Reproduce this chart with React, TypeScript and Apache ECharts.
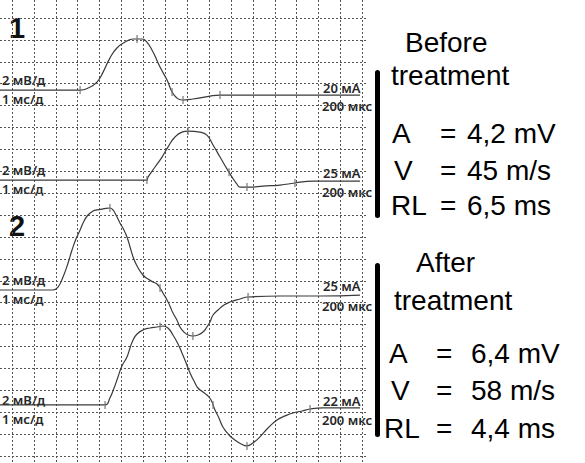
import React, { useEffect, useRef } from "react";
import * as echarts from "echarts";

// time axis: 1 ms per division; amplitude: 2 mV per division
const T1_t = [-0.55, 3.11, 3.47, 3.88, 4.16, 4.47, 4.79, 5.16, 5.53, 5.94, 6.16, 6.44, 6.76, 7.08, 7.31, 7.53, 7.76, 8.26, 9.04, 9.5, 15.89];
const T1_mV = [0, 0, 0.18, 0.73, 1.64, 2.92, 3.84, 4.38, 4.66, 4.66, 4.38, 3.47, 2.1, 0.91, -0.18, -0.73, -0.91, -0.82, -0.55, -0.46, -0.46];

const T2_t = [-0.55, 6.16, 6.21, 6.53, 6.85, 7.12, 7.44, 7.76, 8.04, 8.58, 8.9, 9.18, 9.5, 9.82, 10.05, 10.27, 10.41, 10.87, 11.46, 12.24, 12.92, 13.74, 15.89];
const T2_mV = [0, 0, 0.27, 1.19, 2.1, 3.01, 3.93, 4.38, 4.47, 4.38, 4.11, 3.2, 2.1, 1.0, 0.27, -0.37, -0.64, -0.64, -0.55, -0.46, -0.27, -0.09, -0.09];

const T3_t = [-0.55, 1.87, 2.1, 2.33, 2.56, 2.74, 2.92, 3.11, 3.29, 3.47, 3.7, 3.88, 4.16, 4.47, 4.61, 4.75, 4.93, 5.11, 5.25, 5.39, 5.53, 5.71, 5.98, 6.21, 6.44, 6.62, 6.76, 6.89, 7.08, 7.21, 7.35, 7.53, 7.67, 7.85, 8.04, 8.26, 8.49, 8.72, 8.9, 9.04, 9.18, 9.41, 9.68, 9.95, 10.41, 10.78, 12.24, 14.06, 15.89];
const T3_mV = [0, 0, 0.27, 1.19, 2.47, 3.65, 4.66, 5.48, 6.3, 6.85, 7.21, 7.31, 7.4, 7.49, 7.31, 6.85, 6.12, 5.48, 4.84, 3.93, 3.01, 2.19, 1.37, 1.0, 0.73, 0.55, 0.18, -0.27, -0.91, -1.46, -2.1, -2.74, -3.38, -3.84, -4.11, -4.2, -4.11, -3.84, -3.38, -2.92, -2.28, -1.83, -1.37, -1.1, -0.82, -0.64, -0.55, -0.55, -0.46];

const T4_t = [-0.55, 4.25, 4.47, 4.66, 4.84, 5.02, 5.25, 5.39, 5.53, 5.71, 5.98, 6.3, 6.62, 6.89, 7.12, 7.35, 7.58, 7.76, 7.95, 8.13, 8.31, 8.49, 8.72, 8.9, 9.09, 9.27, 9.45, 9.63, 9.91, 10.18, 10.46, 10.73, 11.0, 11.32, 11.69, 12.1, 12.47, 12.83, 13.24, 13.61, 14.2, 15.89];
const T4_mV = [0, 0, 0.64, 1.55, 2.56, 3.56, 4.38, 5.21, 5.94, 6.48, 6.85, 7.03, 7.12, 7.21, 7.03, 6.39, 5.57, 4.75, 3.84, 2.92, 2.19, 1.55, 1.19, 0.91, 0.46, -0.46, -1.19, -2.01, -2.74, -3.2, -3.56, -3.74, -3.47, -2.92, -2.1, -1.37, -1.0, -0.73, -0.55, -0.37, -0.27, -0.27];

// cursor marks on each trace (ms)
const M1 = [3.11, 5.71, 7.31, 7.81, 9.5];
const M2 = [6.16, 8.04, 9.91, 10.73, 12.92];
const M3 = [4.47, 6.76, 8.26, 10.78];
const M4 = [4.25, 6.76, 9.18, 10.73, 13.61];

// baseline of each trace, in grid divisions from bottom
const BASELINES = [16.71, 12.6, 7.58, 2.33];
const MV_PER_DIV = 2;

const GAIN_LABEL = "2 мВ/д";
const SWEEP_LABEL = "1 мс/д";
const STIM_LABELS = ["20 мА", "25 мА", "25 мА", "22 мА"];
const DUR_LABEL = "200 мкс";

const BEFORE = { title: ["Before", "treatment"], A: "4,2 mV", V: "45 m/s", RL: "6,5 ms" };
const AFTER = { title: ["After", "treatment"], A: "6,4 mV", V: "58 m/s", RL: "4,4 ms" };

const TRACES = [
  [T1_t, T1_mV, M1],
  [T2_t, T2_mV, M2],
  [T3_t, T3_mV, M3],
  [T4_t, T4_mV, M4],
] as const;

function interp(ts: readonly number[], vs: readonly number[], t: number) {
  for (let i = 1; i < ts.length; i++) {
    if (t <= ts[i]) {
      const f = (t - ts[i - 1]) / (ts[i] - ts[i - 1] || 1);
      return vs[i - 1] + f * (vs[i] - vs[i - 1]);
    }
  }
  return vs[vs.length - 1];
}

export default function App() {
  const ref = useRef<HTMLDivElement>(null);
  useEffect(() => {
    if (!ref.current) return;
    const chart = echarts.init(ref.current, null, { renderer: "svg" });
    const DIV = 21.9;
    const gridLine = { type: [2, 2] as number[], color: "#555", width: 1 };

    const lineSeries = TRACES.map(([ts, vs], k) => ({
      type: "line",
      xAxisIndex: 1,
      yAxisIndex: 1,
      data: ts.map((t, i) => [t, BASELINES[k] + vs[i] / MV_PER_DIV]),
      smooth: 0.5,
      showSymbol: false,
      lineStyle: { color: "#3a3a3a", width: 1.2 },
      silent: true,
      z: 3,
    }));

    const markData: number[][] = [];
    TRACES.forEach(([ts, vs, ms], k) => {
      ms.forEach((m) => markData.push([m, BASELINES[k] + interp(ts, vs, m) / MV_PER_DIV]));
    });

    const labelFont = { fontFamily: "Noto Sans", fontSize: 13, fontWeight: 600, fill: "#262626" };
    const leftTexts: any[] = [];
    const labelRows = [
      [80, 99, 88, 106],
      [170, 189, 173, 192],
      [280, 299, 286, 306],
      [400, 419, 401, 420],
    ];
    labelRows.forEach(([g, s, st, d], k) => {
      leftTexts.push({ type: "text", x: 2, y: g, style: { ...labelFont, text: GAIN_LABEL, verticalAlign: "middle" } });
      leftTexts.push({ type: "text", x: 2, y: s, style: { ...labelFont, text: SWEEP_LABEL, verticalAlign: "middle" } });
      leftTexts.push({ type: "text", x: 323, y: st, style: { ...labelFont, text: STIM_LABELS[k], verticalAlign: "middle" } });
      leftTexts.push({ type: "text", x: 322, y: d, style: { ...labelFont, text: DUR_LABEL, verticalAlign: "middle" } });
    });

    const big = { fontFamily: "Liberation Sans", fontSize: 28, fill: "#000", verticalAlign: "middle" };
    const panel = (p: typeof BEFORE, o: any) => [
      { type: "text", x: o.t1x, y: o.t1y, style: { ...big, text: p.title[0] } },
      { type: "text", x: o.t2x, y: o.t2y, style: { ...big, text: p.title[1] } },
      { type: "text", x: o.ax, y: o.r1, style: { ...big, text: "A" } },
      { type: "text", x: o.vx, y: o.r2, style: { ...big, text: "V" } },
      { type: "text", x: o.rx, y: o.r3, style: { ...big, text: "RL" } },
      { type: "text", x: o.ex, y: o.r1, style: { ...big, text: "=" } },
      { type: "text", x: o.ex, y: o.r2, style: { ...big, text: "=" } },
      { type: "text", x: o.ex, y: o.r3, style: { ...big, text: "=" } },
      { type: "text", x: o.nx, y: o.r1, style: { ...big, text: p.A } },
      { type: "text", x: o.nx, y: o.r2, style: { ...big, text: p.V } },
      { type: "text", x: o.nx, y: o.r3, style: { ...big, text: p.RL } },
      { type: "rect", shape: { x: o.bx, y: o.by, width: 5, height: o.bh, r: 2.5 }, style: { fill: "#000" } },
    ];

    chart.setOption({
      animation: false,
      backgroundColor: "#fff",
      grid: [
        { left: 12, right: 585 - (12 + 16 * DIV), top: 0, bottom: 0 },
        { left: 0, right: 217, top: 0, bottom: 7 },
      ],
      xAxis: [
        {
          gridIndex: 0, type: "value", min: 0, max: 16, interval: 1,
          axisLine: { show: false }, axisTick: { show: false }, axisLabel: { show: false },
          splitLine: { show: true, lineStyle: gridLine },
        },
        { gridIndex: 1, type: "value", min: -12 / DIV, max: 368 / DIV - 12 / DIV, show: false },
      ],
      yAxis: [
        { gridIndex: 0, type: "value", min: 0, max: 1, show: false },
        {
          gridIndex: 1, type: "value", min: 0, max: 456 / DIV, interval: 1,
          axisLine: { show: false }, axisTick: { show: false }, axisLabel: { show: false },
          splitLine: { show: true, showMaxLine: false, lineStyle: gridLine },
        },
      ],
      series: [
        ...lineSeries,
        {
          type: "scatter",
          xAxisIndex: 1,
          yAxisIndex: 1,
          data: markData,
          symbol: "rect",
          symbolSize: [1.5, 8],
          itemStyle: { color: "#777" },
          silent: true,
          z: 4,
        },
      ],
      graphic: [
        { type: "text", x: 9, y: 28, style: { fontFamily: "Liberation Sans", fontSize: 29, fontWeight: "bold", fill: "#111", text: "1", verticalAlign: "middle" } },
        { type: "text", x: 9, y: 226, style: { fontFamily: "Liberation Sans", fontSize: 29, fontWeight: "bold", fill: "#111", text: "2", verticalAlign: "middle" } },
        ...leftTexts,
        ...panel(BEFORE, { t1x: 405, t1y: 42, t2x: 391, t2y: 75, ax: 392, vx: 394, rx: 391, ex: 440, nx: 467, r1: 133, r2: 170, r3: 205, bx: 375, by: 70, bh: 148 }),
        ...panel(AFTER, { t1x: 416, t1y: 262, t2x: 394, t2y: 300, ax: 389, vx: 391, rx: 384, ex: 436, nx: 471, r1: 353, r2: 390, r3: 428, bx: 375, by: 263, bh: 174 }),
      ],
    });
    return () => chart.dispose();
  }, []);
  return <div ref={ref} style={{ position: "fixed", left: 0, top: 0, width: 585, height: 463 }} />;
}
